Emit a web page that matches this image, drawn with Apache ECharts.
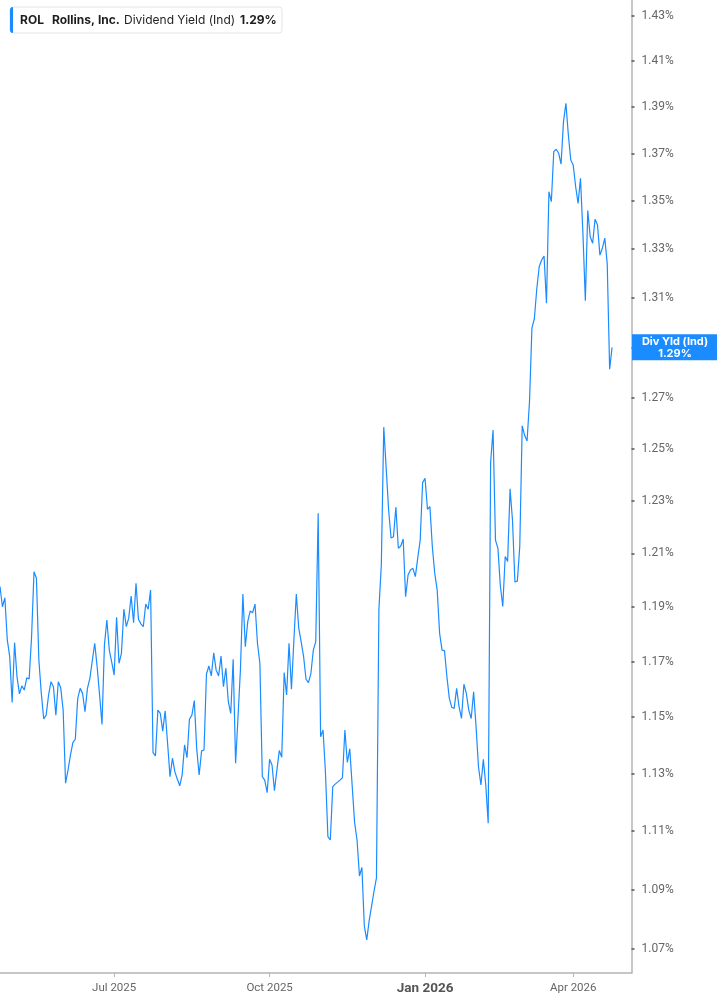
<!DOCTYPE html>
<html><head><meta charset="utf-8">
<script src="https://cdn.jsdelivr.net/npm/echarts@6/dist/echarts.min.js"></script>
<style>html,body{margin:0;padding:0;background:#fff}#c{width:717px;height:1005px}</style>
</head><body><div id="c"></div>
<script>
// ---- data ----
const ticker = 'ROL';
const company = 'Rollins, Inc.';
const metric = 'Dividend Yield (Ind)';
const tagTitle = 'Div Yld (Ind)';
const firstTradingDay = '2025-04-23';
const marketHolidays = ['2025-05-26','2025-06-19','2025-07-04','2025-09-01','2025-11-27','2025-12-25','2026-01-01','2026-01-19','2026-02-16','2026-04-03'];
const categoryCount = 261;
const yTickValues = [1.07,1.09,1.11,1.13,1.15,1.17,1.19,1.21,1.23,1.25,1.27,1.29,1.31,1.33,1.35,1.37,1.39,1.41,1.43];
const monthNames = ['Jan','Feb','Mar','Apr','May','Jun','Jul','Aug','Sep','Oct','Nov','Dec'];
const yieldValues = [
1.1976,1.1901,1.1934,1.1779,1.1718,1.1552,1.1769,1.1645,1.1583,1.1612,
1.1597,1.1641,1.1637,1.1791,1.2031,1.2007,1.1706,1.1586,1.1493,1.1507,
1.1579,1.1627,1.1609,1.1507,1.1627,1.1605,1.1525,1.1266,1.1312,1.1365,
1.1409,1.1421,1.1567,1.1603,1.1585,1.1519,1.1603,1.1639,1.1703,1.1767,
1.1681,1.1579,1.1474,1.1761,1.1852,1.1742,1.1698,1.1651,1.1862,1.1694,
1.1730,1.1892,1.1828,1.1859,1.1941,1.1842,1.1988,1.1855,1.1838,1.1828,
1.1911,1.1892,1.1963,1.1374,1.1362,1.1525,1.1513,1.1450,1.1522,1.1407,
1.1289,1.1354,1.1306,1.1281,1.1257,1.1295,1.1401,1.1356,1.1492,1.1507,
1.1559,1.1386,1.1295,1.1380,1.1383,1.1655,1.1684,1.1648,1.1732,1.1669,
1.1648,1.1720,1.1609,1.1676,1.1555,1.1513,1.1708,1.1336,1.1501,1.1672,
1.1948,1.1754,1.1846,1.1885,1.1879,1.1911,1.1767,1.1694,1.1289,1.1277,
1.1233,1.1350,1.1330,1.1240,1.1312,1.1381,1.1357,1.1660,1.1579,1.1767,
1.1600,1.1779,1.1948,1.1822,1.1772,1.1718,1.1636,1.1624,1.1657,1.1742,
1.1773,1.2252,1.1430,1.1454,1.1303,1.1081,1.1069,1.1254,1.1263,1.1270,
1.1277,1.1286,1.1454,1.1339,1.1387,1.1257,1.1129,1.1069,1.0946,1.0975,
1.0777,1.0731,1.0795,1.0845,1.0895,1.0940,1.1891,1.2057,1.2584,1.2424,
1.2265,1.2158,1.2163,1.2275,1.2119,1.2128,1.2154,1.1938,1.2019,1.2038,
1.2044,1.2013,1.2083,1.2150,1.2369,1.2386,1.2267,1.2277,1.2125,1.2025,
1.1963,1.1803,1.1742,1.1740,1.1645,1.1567,1.1535,1.1531,1.1603,1.1537,
1.1495,1.1618,1.1585,1.1525,1.1495,1.1591,1.1466,1.1324,1.1260,1.1350,
1.1260,1.1127,1.2447,1.2573,1.2150,1.2119,1.1979,1.1902,1.2088,1.2070,
1.2345,1.2226,1.1993,1.1996,1.2127,1.2589,1.2552,1.2530,1.2684,1.2977,
1.3015,1.3136,1.3227,1.3255,1.3271,1.3078,1.3539,1.3497,1.3709,1.3719,
1.3702,1.3656,1.3837,1.3916,1.3780,1.3673,1.3652,1.3561,1.3490,1.3596,
1.3365,1.3088,1.3460,1.3351,1.3324,1.3424,1.3400,1.3275,1.3303,1.3345,
1.3241,1.2813,1.2900
];

// ---- trading-day categories ----
function buildCategories(){
  const out = [];
  const d = new Date(firstTradingDay + 'T00:00:00Z');
  while (out.length < categoryCount) {
    const s = d.toISOString().slice(0,10);
    const wd = d.getUTCDay();
    if (wd !== 0 && wd !== 6 && marketHolidays.indexOf(s) < 0) out.push(s);
    d.setUTCDate(d.getUTCDate() + 1);
  }
  return out;
}
const categories = buildCategories();
const quarterIdx = [];
categories.forEach((s,i) => {
  if (i === 0) return;
  const m = +s.slice(5,7), pm = +categories[i-1].slice(5,7);
  if (m !== pm && (m === 1 || m === 4 || m === 7 || m === 10)) quarterIdx.push(i);
});

const chart = echarts.init(document.getElementById('c'), null, {renderer:'canvas'});
const axisColor = '#b4b4b4';
const lineColor = '#1a8cff';

chart.setOption({
  animation: false,
  backgroundColor: '#ffffff',
  grid: {left: -1.6, right: 85.5, top: 0, bottom: 32, containLabel: false},
  xAxis: {
    type: 'category', data: categories, boundaryGap: false,
    axisLine: {show: true, lineStyle: {color: axisColor, width: 1.5}},
    axisTick: {show: true, customValues: quarterIdx, length: 4, lineStyle: {color: axisColor, width: 1}},
    axisLabel: {
      customValues: quarterIdx, hideOverlap: false,
      color: '#666', fontSize: 11.5, fontFamily: 'Roboto', margin: 9,
      formatter: (v) => {
        const m = +v.slice(5,7) - 1, y = v.slice(0,4);
        const t = monthNames[m] + ' ' + y;
        return m === 0 ? '{b|' + t + '}' : t;
      },
      rich: {b: {fontWeight: 'bold', fontSize: 13.5, color: '#555', fontFamily: 'Roboto'}}
    },
    splitLine: {show: false}
  },
  yAxis: {
    type: 'value', position: 'right',
    min: Math.log(1.0621), max: Math.log(1.437),
    axisLine: {show: true, lineStyle: {color: axisColor, width: 1.5}},
    axisTick: {show: true, length: 3, customValues: yTickValues.map(Math.log), lineStyle: {color: '#555', width: 1.5}},
    axisLabel: {
      customValues: yTickValues.map(Math.log),
      formatter: (v) => Math.exp(v).toFixed(2) + '%',
      color: '#666', fontSize: 12, fontFamily: 'Roboto', margin: 10
    },
    splitLine: {show: false}
  },
  series: [{
    type: 'line', data: yieldValues.map(Math.log), showSymbol: false,
    lineStyle: {color: lineColor, width: 1.2}, clip: true
  }]
});

// ---- legend box and price tag ----
const lastVal = yieldValues[yieldValues.length - 1];
const tagY = chart.convertToPixel({yAxisIndex: 0}, Math.log(lastVal));
const lastTxt = lastVal.toFixed(2) + '%';
chart.setOption({
  graphic: [
    {type: 'rect', z: 100, shape: {x: 10, y: 7, width: 272, height: 26, r: 3}, style: {fill: '#fff', stroke: '#e4e4e4', lineWidth: 1}},
    {type: 'rect', z: 101, shape: {x: 10, y: 7, width: 3, height: 26, r: [3,0,0,3]}, style: {fill: lineColor}},
    {type: 'text', z: 101, style: {text: ticker, x: 20, y: 20.5, verticalAlign: 'middle', fill: '#1e1e1e', font: 'bold 12px Inter'}},
    {type: 'text', z: 101, style: {text: company, x: 52, y: 20.5, verticalAlign: 'middle', fill: '#1e1e1e', font: 'bold 12px Inter'}},
    {type: 'text', z: 101, style: {text: metric, x: 124, y: 20.5, verticalAlign: 'middle', fill: '#1e1e1e', font: '12px Inter'}},
    {type: 'text', z: 101, style: {text: lastTxt, x: 240, y: 20.5, verticalAlign: 'middle', fill: '#1e1e1e', font: 'bold 12px Inter'}},
    {type: 'rect', z: 100, shape: {x: 632, y: tagY - 13, width: 85, height: 26}, style: {fill: lineColor}},
    {type: 'text', z: 101, style: {text: tagTitle, x: 675, y: tagY - 5.5, align: 'center', verticalAlign: 'middle', fill: '#fff', font: 'bold 11px Inter'}},
    {type: 'text', z: 101, style: {text: lastTxt, x: 675, y: tagY + 6, align: 'center', verticalAlign: 'middle', fill: '#fff', font: 'bold 11px Inter'}}
  ]
});
</script>
</body></html>
